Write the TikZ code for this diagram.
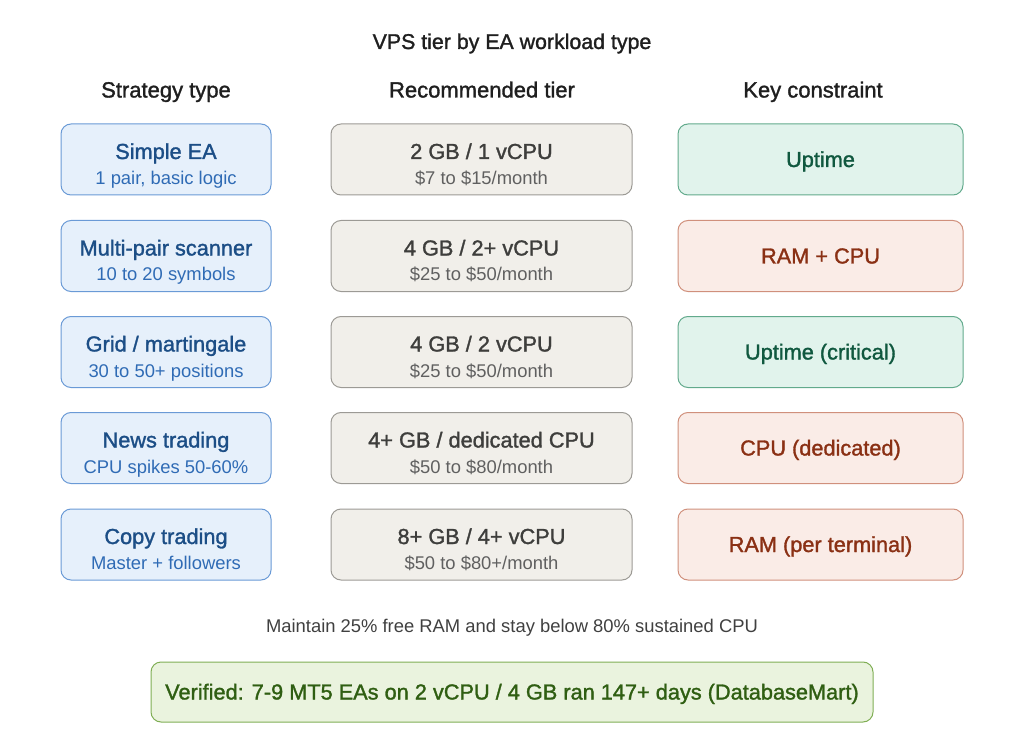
\documentclass[tikz,border=0pt]{standalone}
\usepackage{fontspec}
\setmainfont{Liberation Sans}
\newfontfamily\midfont{Liberation Sans}[FakeBold=1.4]
\usepackage{xcolor}
\definecolor{stratfill}{HTML}{E6F0FB}
\definecolor{stratline}{HTML}{6A9AD6}
\definecolor{stratmain}{HTML}{1C4E86}
\definecolor{stratsub}{HTML}{2F6BB5}
\definecolor{tierfill}{HTML}{F1EFEA}
\definecolor{tierline}{HTML}{9C9A95}
\definecolor{tiermain}{HTML}{3E3E3C}
\definecolor{tiersub}{HTML}{606060}
\definecolor{okfill}{HTML}{E1F3EC}
\definecolor{okline}{HTML}{62AA8C}
\definecolor{oktext}{HTML}{10583F}
\definecolor{hotfill}{HTML}{FAECE7}
\definecolor{hotline}{HTML}{D0907C}
\definecolor{hottext}{HTML}{8A3014}
\definecolor{notefill}{HTML}{EAF3DE}
\definecolor{noteline}{HTML}{80AE55}
\definecolor{notetext}{HTML}{2F5E12}

\tikzset{
  box/.style={draw, rounded corners=7.5pt, line width=0.75pt, inner sep=0pt, minimum height=53.25pt},
  strat/.style={box, fill=stratfill, draw=stratline, minimum width=157.5pt},
  tier/.style={box, fill=tierfill, draw=tierline, minimum width=225.75pt},
  okbox/.style={box, fill=okfill, draw=okline, minimum width=213.75pt},
  hotbox/.style={box, fill=hotfill, draw=hotline, minimum width=213.75pt},
  big/.style={anchor=base, inner sep=0pt, font=\midfont\fontsize{16.3}{20}\selectfont},
  small/.style={anchor=base, inner sep=0pt, font=\fontsize{13.8}{16}\selectfont},
  head/.style={anchor=base, inner sep=0pt, font=\midfont\fontsize{16.5}{20}\selectfont, text=black!88}
}

\begin{document}
\begin{tikzpicture}[x=0.75pt, y=-0.75pt]
    \useasboundingbox (0,0) rectangle (1024,752);

      \node (title) at (512,49) [head, font=\midfont\fontsize{16}{20}\selectfont] {VPS tier by EA workload type};
      \node (hstrat) at (166,97.5) [head] {Strategy type};
      \node (htier) at (482,97.5) [head] {Recommended tier};
      \node (hkey) at (813,97.5) [head] {Key constraint};

      % strategy column
      \node (s1) at (166,159.5) [strat] {};
      \node (s2) at (166,256) [strat] {};
      \node (s3) at (166,352) [strat] {};
      \node (s4) at (166,448) [strat] {};
      \node (s5) at (166,544.5) [strat] {};
      \node (s1a) at (166,159) [big, text=stratmain] {Simple EA};
      \node (s1b) at (166,184.5) [small, text=stratsub] {1 pair, basic logic};
      \node (s2a) at (166,255.5) [big, text=stratmain] {Multi-pair scanner};
      \node (s2b) at (166,281) [small, text=stratsub] {10 to 20 symbols};
      \node (s3a) at (166,351.5) [big, text=stratmain] {Grid / martingale};
      \node (s3b) at (166,377) [small, text=stratsub] {30 to 50+ positions};
      \node (s4a) at (166,447.5) [big, text=stratmain] {News trading};
      \node (s4b) at (166,473) [small, text=stratsub] {CPU spikes 50-60\%};
      \node (s5a) at (166,544) [big, text=stratmain] {Copy trading};
      \node (s5b) at (166,569.5) [small, text=stratsub] {Master + followers};

      % tier column
      \node (t1) at (481.5,159.5) [tier] {};
      \node (t2) at (481.5,256) [tier] {};
      \node (t3) at (481.5,352) [tier] {};
      \node (t4) at (481.5,448) [tier] {};
      \node (t5) at (481.5,544.5) [tier] {};
      \node (t1a) at (481.5,159) [big, text=tiermain] {2 GB / 1 vCPU};
      \node (t1b) at (481.5,184.5) [small, text=tiersub] {\$7 to \$15/month};
      \node (t2a) at (481.5,255.5) [big, text=tiermain] {4 GB / 2+ vCPU};
      \node (t2b) at (481.5,281) [small, text=tiersub] {\$25 to \$50/month};
      \node (t3a) at (481.5,351.5) [big, text=tiermain] {4 GB / 2 vCPU};
      \node (t3b) at (481.5,377) [small, text=tiersub] {\$25 to \$50/month};
      \node (t4a) at (481.5,447.5) [big, text=tiermain] {4+ GB / dedicated CPU};
      \node (t4b) at (481.5,473) [small, text=tiersub] {\$50 to \$80/month};
      \node (t5a) at (481.5,544) [big, text=tiermain] {8+ GB / 4+ vCPU};
      \node (t5b) at (481.5,569.5) [small, text=tiersub] {\$50 to \$80+/month};

      % constraint column
      \node (k1) at (820.5,159.5) [okbox] {};
      \node (k2) at (820.5,256) [hotbox] {};
      \node (k3) at (820.5,352) [okbox] {};
      \node (k4) at (820.5,448) [hotbox] {};
      \node (k5) at (820.5,544.5) [hotbox] {};
      \node (k1a) at (820.5,167) [big, text=oktext] {Uptime};
      \node (k2a) at (820.5,263.5) [big, text=hottext] {RAM + CPU};
      \node (k3a) at (820.5,359.5) [big, text=oktext] {Uptime (critical)};
      \node (k4a) at (820.5,455.5) [big, text=hottext] {CPU (dedicated)};
      \node (k5a) at (820.5,552) [big, text=hottext] {RAM (per terminal)};

      \node (rule) at (512,632.5) [small, text=black!75] {Maintain 25\% free RAM and stay below 80\% sustained CPU};
      \node (proof) at (512,692) [box, fill=notefill, draw=noteline, minimum width=541.5pt, minimum height=45pt] {};
      \node (proofa) at (512,699.5) [big, text=notetext] {Verified: 7-9 MT5 EAs on 2 vCPU / 4 GB ran 147+ days (DatabaseMart)};

  \end{tikzpicture}
\end{document}
